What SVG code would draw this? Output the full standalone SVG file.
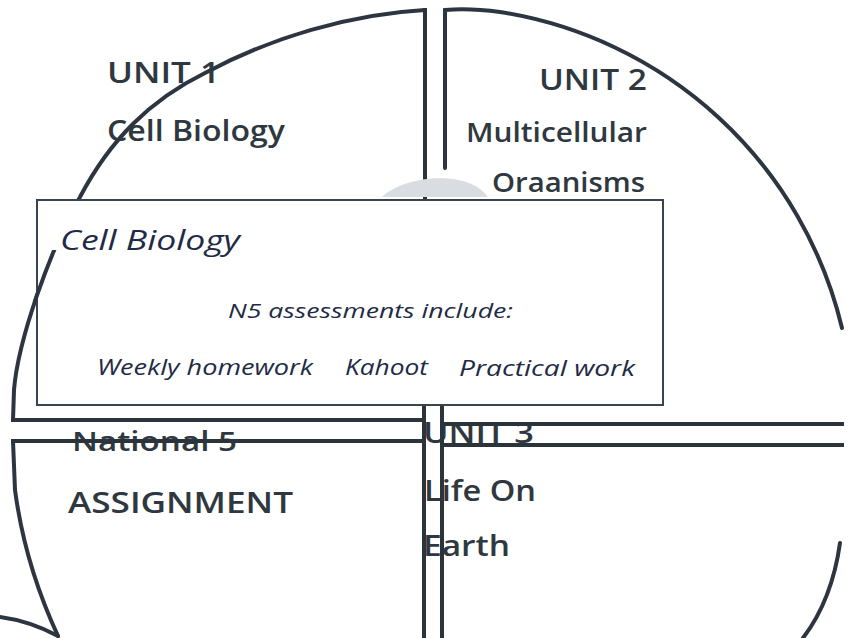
<svg xmlns="http://www.w3.org/2000/svg" width="848" height="638" viewBox="0 0 848 638">
<defs>
<style>
.ln{fill:none;stroke:#2b333b;stroke-width:4;stroke-linecap:square}
.arc{fill:none;stroke:#2c3540;stroke-width:4;stroke-linecap:round}
.lbl{font-family:"Open Sans","Noto Sans",sans-serif;font-weight:600;fill:#2f383f}
.pop{font-family:"Open Sans","Noto Sans",sans-serif;font-style:italic;fill:#1f2b46}
</style>
<clipPath id="inBox"><rect x="30" y="250" width="40" height="52"/></clipPath>
</defs>
<rect width="848" height="638" fill="#ffffff"/>

<g id="quadrant-unit1">
<path class="arc" d="M13,420 L14,390 C18,340 50,250 80,197 C110,140 150,100 205,73 C270,38 350,14 425,10"/>
<path class="ln" d="M425,10 L425,200"/>
<path class="ln" d="M13,420 L424,420"/>
<text class="lbl" x="107" y="83" font-size="28" textLength="113" lengthAdjust="spacingAndGlyphs">UNIT 1</text>
<text class="lbl" x="107" y="141" font-size="28" textLength="178" lengthAdjust="spacingAndGlyphs">Cell Biology</text>
</g>

<g id="quadrant-unit2">
<path class="arc" d="M445,168 L445,10 Q470,8 500,12 A 418 418 0 0 1 842,328"/>
<text class="lbl" x="539" y="90" font-size="28" textLength="108" lengthAdjust="spacingAndGlyphs">UNIT 2</text>
<text class="lbl" x="466" y="142" font-size="27" textLength="181" lengthAdjust="spacingAndGlyphs">Multicellular</text>
<text class="lbl" x="492" y="192" font-size="27" textLength="153" lengthAdjust="spacingAndGlyphs">Oraanisms</text>
</g>

<g id="centre-mark">
<path d="M382,197 C402,176 468,168 488,197 Z" fill="#d9dde2"/>
</g>

<g id="quadrant-assignment">
<text class="lbl" x="72" y="451" font-size="27" textLength="165" lengthAdjust="spacingAndGlyphs">National 5</text>
<text class="lbl" x="68" y="513" font-size="29" textLength="225" lengthAdjust="spacingAndGlyphs">ASSIGNMENT</text>
<path class="arc" d="M13,441 L15,490 Q25,565 58,636"/>
<path class="arc" d="M0,617 Q30,621 58,636"/>
<path class="ln" d="M13,441 L424,441"/>
</g>

<g id="quadrant-unit3">
<text class="lbl" x="423" y="443" font-size="28" textLength="111" lengthAdjust="spacingAndGlyphs">UNIT 3</text>
<text class="lbl" x="424" y="501" font-size="29" textLength="112" lengthAdjust="spacingAndGlyphs">Life On</text>
<text class="lbl" x="423" y="556" font-size="29" textLength="87" lengthAdjust="spacingAndGlyphs">Earth</text>
<path class="ln" d="M442,424 L842,424"/>
<path class="ln" d="M442,445 L842,445"/>
<path class="arc" d="M840,543 Q832,600 803,638"/>
</g>

<g id="connectors">
<path class="ln" d="M424,404 L424,640"/>
<path class="ln" d="M442,404 L442,640"/>
</g>

<g id="popup-cell-biology">
<rect x="37" y="200" width="626" height="205" fill="#ffffff" stroke="#3a4350" stroke-width="2"/>
<path class="arc" clip-path="url(#inBox)" d="M14,390 C18,340 50,250 80,197"/>
<text class="pop" x="60" y="250" font-size="28" textLength="180" lengthAdjust="spacingAndGlyphs">Cell Biology</text>
<text class="pop" x="228" y="318" font-size="20" textLength="285" lengthAdjust="spacingAndGlyphs" fill="#2c2f52">N5 assessments include:</text>
<text class="pop" x="97" y="375" font-size="22" textLength="216" lengthAdjust="spacingAndGlyphs">Weekly homework</text>
<text class="pop" x="345" y="375" font-size="22" textLength="83" lengthAdjust="spacingAndGlyphs">Kahoot</text>
<text class="pop" x="459" y="376" font-size="22" textLength="176" lengthAdjust="spacingAndGlyphs">Practical work</text>
</g>
</svg>
